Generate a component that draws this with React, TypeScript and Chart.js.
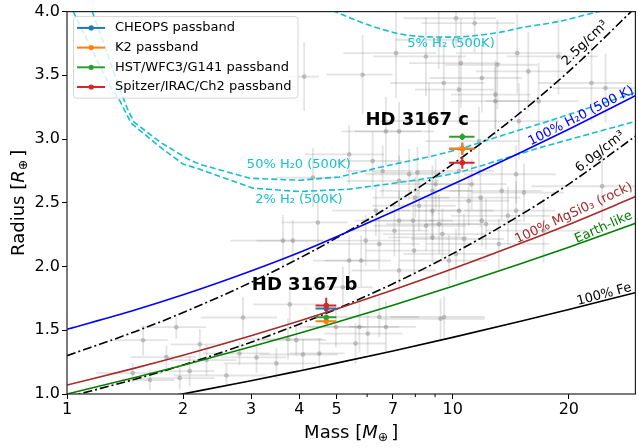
import React, { useEffect, useRef } from 'react';
import { Chart, registerables } from 'chart.js';

Chart.register(...registerables);

const FAM = '"DejaVu Sans", "Liberation Sans", sans-serif';

// ---------- model curves (mass in Earth masses, radius in Earth radii) ----------
const modelMass = [1, 1.5, 2, 3, 4, 5, 7, 10, 15, 20, 30];
const h2o100Radius = [1.508, 1.659, 1.778, 1.965, 2.11, 2.234, 2.429, 2.645, 2.894, 3.077, 3.346];
const mgsio3Radius = [1.07, 1.203, 1.304, 1.457, 1.573, 1.667, 1.816, 1.982, 2.182, 2.33, 2.552];
const earthRadius = [1.0, 1.129, 1.226, 1.37, 1.477, 1.563, 1.697, 1.845, 2.022, 2.152, 2.343];
const dens25Radius = [1.301, 1.489, 1.639, 1.876, 2.065, 2.225, 2.489, 2.803, 3.209, 3.531, 4.042];
const dens60Radius = [0.975, 1.116, 1.228, 1.406, 1.548, 1.667, 1.865, 2.101, 2.405, 2.647, 3.03];
const feMass = [1.9, 3, 4, 5, 7, 10, 15, 20, 30];
const feRadius = [0.988, 1.104, 1.181, 1.242, 1.338, 1.444, 1.57, 1.663, 1.798];

const h2o50Mass = [1.163, 1.248, 1.349, 1.432, 1.492, 1.742, 2.058, 2.21, 2.977, 4.007, 5.085, 6.71, 8.86, 10.38, 13.71, 17.74, 29.94];
const h2o50Radius = [4.0, 3.742, 3.453, 3.242, 3.133, 2.977, 2.844, 2.802, 2.693, 2.677, 2.703, 2.789, 2.867, 2.92, 3.037, 3.141, 3.367];
const h2pct2Mass = [1.038, 1.184, 1.294, 1.373, 1.466, 1.742, 1.998, 2.21, 3.03, 4.007, 5.395, 7.26, 8.86, 10.38, 16.7, 29.94];
const h2pct2Radius = [4.0, 3.648, 3.414, 3.297, 3.125, 2.938, 2.805, 2.763, 2.615, 2.588, 2.607, 2.659, 2.698, 2.737, 2.93, 3.141];
const h2pct5Mass = [4.876, 5.73, 6.45, 7.71, 9.78, 13.17, 15.11, 18.8, 21.75, 24.48];
const h2pct5Radius = [4.008, 3.922, 3.867, 3.8125, 3.80, 3.836, 3.875, 3.922, 3.969, 4.008];

// ---------- HD 3167 b and c ----------
const planetMass = [4.70, 10.59];
const planetMassErr = [0.29, 0.80];
const cheopsRadius = [1.670, 2.924];
const cheopsRadiusErr = [0.015, 0.047];
const k2Radius = [1.571, 2.924];
const k2RadiusErr = [0.02, 0.047];
const hstRadius = [1.602, 3.018];
const hstRadiusErr = [0.02, 0.025];
const spitzerRadius = [1.695, 2.815];
const spitzerRadiusErr = [0.06, 0.047];

// ---------- known planets (grey sample) ----------
const bgMass = [
  1.575, 1.92, 2.21, 1.48, 1.64, 1.81, 1.96, 2.08, 2.30, 2.59,
  2.80, 3.10, 2.86, 3.49, 3.78, 3.74, 3.93, 4.09, 4.51, 4.98,
  3.63, 3.85, 4.47, 5.39, 5.79, 5.19, 5.73, 6.45, 6.02, 5.60,
  6.71, 9.30, 6.45, 7.26, 7.90, 8.53, 8.86, 9.40, 8.86, 8.00,
  7.26, 6.58, 6.32, 9.22, 10.38, 11.8, 12.2, 14.6, 13.17, 10.2,
  8.86, 5.95, 9.03, 7.71, 10.38, 11.2, 14.6, 10.7, 11.9, 13.4,
  15.3, 9.5, 24.4, 5.39, 6.71, 7.26, 6.2, 8.1, 4.34, 4.12,
  5.84, 7.13, 8.52, 9.48, 10.38, 10.5, 13.05, 14.7, 15.7, 11.9,
  12.9, 10.2, 9.2, 22.9, 24.9, 11.4, 12.9, 11.0, 8.18, 7.06,
  13.9, 17.2, 9.78, 7.94, 11.7, 14.84, 8.68, 18.8, 16.7, 7.26,
];
const bgMassErr = [
  0.25, 0.37, 0.35, 0.29, 0.26, 0.35, 0.45, 0.33, 0.45, 0.70,
  0.55, 0.60, 0.64, 0.94, 0.74, 0.86, 0.77, 0.94, 0.73, 0.97,
  0.98, 0.75, 0.87, 1.05, 1.13, 1.01, 1.54, 1.74, 1.38, 1.09,
  1.31, 2.80, 1.74, 1.68, 2.10, 2.30, 1.70, 2.80, 2.40, 1.80,
  1.95, 1.29, 1.45, 2.50, 2.40, 3.20, 3.70, 3.90, 4.60, 2.75,
  2.05, 1.37, 2.10, 1.78, 2.40, 2.60, 3.90, 2.90, 3.20, 3.60,
  4.10, 2.60, 8.40, 1.25, 1.56, 1.68, 1.21, 1.88, 0.85, 0.38,
  1.14, 1.92, 2.30, 2.60, 2.40, 2.80, 3.50, 4.50, 4.20, 3.20,
  3.00, 2.75, 2.10, 6.20, 6.70, 3.10, 3.00, 3.00, 2.00, 1.60,
  4.00, 5.00, 2.50, 2.00, 3.20, 4.00, 2.20, 5.00, 4.50, 1.80,
];
const bgRadius = [
  1.422, 1.524, 1.39, 1.164, 1.11, 1.29, 1.125, 1.18, 1.266, 1.145,
  1.318, 1.287, 1.60, 1.24, 1.703, 1.43, 1.422, 1.31, 1.318, 1.526,
  2.203, 2.203, 2.346, 2.047, 2.047, 1.838, 1.526, 1.604, 1.474, 1.396,
  1.526, 1.59, 2.177, 2.36, 2.36, 2.32, 2.438, 2.255, 2.594, 2.54,
  2.672, 2.75, 2.438, 2.333, 2.438, 2.54, 2.333, 2.438, 2.177, 2.099,
  2.229, 2.203, 2.646, 2.724, 2.75, 2.646, 2.724, 2.216, 2.36, 2.594,
  2.58, 1.604, 2.63, 2.88, 3.06, 3.06, 2.828, 2.737, 2.698, 3.49,
  3.505, 3.674, 3.648, 3.44, 3.388, 3.596, 3.583, 3.674, 3.531, 3.479,
  3.349, 3.948, 3.779, 3.44, 3.40, 3.909, 3.297, 2.516, 2.477, 2.281,
  2.398, 2.281, 2.047, 2.125, 2.984, 3.14, 3.14, 3.648, 3.297, 1.969,
];
const bgRadiusErr = [
  0.12, 0.09, 0.12, 0.08, 0.08, 0.09, 0.09, 0.12, 0.12, 0.09,
  0.09, 0.12, 0.16, 0.12, 0.16, 0.16, 0.12, 0.12, 0.12, 0.16,
  0.20, 0.16, 0.23, 0.20, 0.20, 0.16, 0.20, 0.16, 0.16, 0.16,
  0.20, 0.16, 0.20, 0.23, 0.20, 0.20, 0.23, 0.20, 0.20, 0.16,
  0.20, 0.20, 0.20, 0.23, 0.20, 0.23, 0.20, 0.23, 0.20, 0.20,
  0.20, 0.20, 0.20, 0.20, 0.20, 0.20, 0.23, 0.20, 0.20, 0.23,
  0.23, 0.16, 0.27, 0.23, 0.27, 0.23, 0.23, 0.20, 0.23, 0.27,
  0.31, 0.35, 0.31, 0.31, 0.27, 0.35, 0.35, 0.31, 0.31, 0.27,
  0.27, 0.23, 0.23, 0.31, 0.27, 0.23, 0.27, 0.20, 0.20, 0.20,
  0.23, 0.25, 0.20, 0.20, 0.27, 0.30, 0.30, 0.30, 0.30, 0.16,
];

// ---------- axes ----------
const xTickValues = [1, 2, 3, 4, 5, 6, 7, 8, 9, 10, 20];
const xTickLabels = ['1', '2', '3', '4', '5', '', '7', '', '', '10', '20'];
const xMinorTicks = [6, 8, 9];

// ---------- text labels on the curves ----------
const curveLabels = [
  { text: '5% H₂ (500K)', mass: 9.9, radius: 3.75, angle: 0, color: '#17becf' },
  { text: '50% H₂0 (500K)', mass: 3.99, radius: 2.80, angle: 0, color: '#17becf' },
  { text: '2% H₂ (500K)', mass: 3.99, radius: 2.523, angle: 0, color: '#17becf' },
  { text: '2.5g/cm³', mass: 22.06, radius: 3.752, angle: -44, color: '#000000' },
  { text: '100% H₂0 (500 K)', mass: 21.52, radius: 3.18, angle: -27, color: '#0000ff' },
  { text: '6.0g/cm³', mass: 24.13, radius: 2.90, angle: -38, color: '#000000' },
  { text: '100% MgSi0₃ (rock)', mass: 20.6, radius: 2.418, angle: -25, color: '#a52a2a' },
  { text: 'Earth-like', mass: 24.6, radius: 2.307, angle: -24, color: '#008000' },
  { text: '100% Fe', mass: 24.7, radius: 1.78, angle: -15, color: '#000000' },
];
const planetLabels = [
  { text: 'HD 3167 c', mass: 8.09, radius: 3.148 },
  { text: 'HD 3167 b', mass: 4.13, radius: 1.852 },
];
const legendItems = [
  { text: 'CHEOPS passband', color: '#1f77b4' },
  { text: 'K2 passband', color: '#ff7f0e' },
  { text: 'HST/WFC3/G141 passband', color: '#2ca02c' },
  { text: 'Spitzer/IRAC/Ch2 passband', color: '#d62728' },
];

const pts = (xs: number[], ys: number[]) => xs.map((x, i) => ({ x, y: ys[i] }));

function drawBars(chart: any, layer: string) {
  const { ctx, chartArea: a, scales } = chart;
  const sx = scales.x, sy = scales.y;
  ctx.save();
  ctx.beginPath();
  ctx.rect(a.left, a.top, a.right - a.left, a.bottom - a.top);
  ctx.clip();
  const sets = chart.data.datasets
    .filter((d: any) => d.errLayer === layer)
    .sort((p: any, q: any) => (q.order || 0) - (p.order || 0));
  sets.forEach((ds: any) => {
    ctx.strokeStyle = ds.errColor;
    ctx.lineWidth = ds.errWidth;
    ds.data.forEach((p: any, i: number) => {
      const px = sx.getPixelForValue(p.x);
      const py = sy.getPixelForValue(p.y);
      const x0 = sx.getPixelForValue(p.x - ds.errX[i]);
      const x1 = sx.getPixelForValue(p.x + ds.errX[i]);
      const y0 = sy.getPixelForValue(p.y - ds.errY[i]);
      const y1 = sy.getPixelForValue(p.y + ds.errY[i]);
      ctx.beginPath();
      ctx.moveTo(x0, py);
      ctx.lineTo(x1, py);
      ctx.moveTo(px, y0);
      ctx.lineTo(px, y1);
      ctx.stroke();
      if (layer === 'front') {
        ctx.fillStyle = ds.backgroundColor;
        ctx.beginPath();
        ctx.arc(px, py, 2.6, 0, Math.PI * 2);
        ctx.fill();
      }
    });
  });
  ctx.restore();
}

const errorBarPlugin = {
  id: 'errorBars',
  beforeDatasetsDraw(chart: any) { drawBars(chart, 'back'); },
  afterDatasetsDraw(chart: any) { drawBars(chart, 'front'); },
};

function drawRich(ctx: CanvasRenderingContext2D, segs: any[], x: number, y: number, size: number) {
  const parts = segs.map((s) => {
    const fs = s.sub ? size * 0.7 : size;
    const font = `${s.italic ? 'italic ' : ''}${fs}px ${FAM}`;
    ctx.font = font;
    return { ...s, font, w: ctx.measureText(s.t).width + (s.gap || 0), dy: s.sub ? size * 0.22 : 0 };
  });
  const total = parts.reduce((acc, p) => acc + p.w, 0);
  let cx = x - total / 2;
  ctx.textAlign = 'left';
  ctx.textBaseline = 'alphabetic';
  parts.forEach((p) => {
    ctx.font = p.font;
    ctx.fillText(p.t, cx, y + p.dy);
    cx += p.w;
  });
}

const decorPlugin = {
  id: 'decor',
  afterDraw(chart: any) {
    const { ctx, chartArea: a, scales } = chart;
    const sx = scales.x, sy = scales.y;
    ctx.save();
    // frame
    ctx.strokeStyle = '#222';
    ctx.lineWidth = 1.2;
    ctx.strokeRect(a.left, a.top, a.right - a.left, a.bottom - a.top);
    // minor ticks
    ctx.lineWidth = 1;
    ctx.strokeStyle = '#000';
    xMinorTicks.forEach((v) => {
      const px = sx.getPixelForValue(v);
      ctx.beginPath();
      ctx.moveTo(px, a.bottom);
      ctx.lineTo(px, a.bottom + 3);
      ctx.stroke();
    });
    // axis titles
    ctx.fillStyle = '#000';
    drawRich(ctx, [{ t: 'Mass [' }, { t: 'M', italic: true }, { t: '⊕', sub: true, gap: 3 }, { t: ']' }], (a.left + a.right) / 2, 437.5, 18);
    ctx.save();
    ctx.translate(23.5, (a.top + a.bottom) / 2);
    ctx.rotate(-Math.PI / 2);
    drawRich(ctx, [{ t: 'Radius [' }, { t: 'R', italic: true }, { t: '⊕', sub: true, gap: 3 }, { t: ']' }], 0, 0, 18);
    ctx.restore();
    // curve labels
    ctx.textAlign = 'center';
    ctx.textBaseline = 'middle';
    curveLabels.forEach((l) => {
      const px = sx.getPixelForValue(l.mass);
      const py = sy.getPixelForValue(l.radius);
      ctx.save();
      ctx.translate(px, py);
      ctx.rotate((l.angle * Math.PI) / 180);
      ctx.font = `13px ${FAM}`;
      ctx.fillStyle = l.color;
      ctx.fillText(l.text, 0, 0);
      ctx.restore();
    });
    planetLabels.forEach((l) => {
      ctx.font = `bold 18px ${FAM}`;
      ctx.fillStyle = '#000';
      ctx.fillText(l.text, sx.getPixelForValue(l.mass), sy.getPixelForValue(l.radius));
    });
    // legend
    const bx = a.left + 6.5, by = a.top + 5, bw = 224.5, bh = 81.5, r = 3;
    ctx.beginPath();
    ctx.moveTo(bx + r, by);
    ctx.lineTo(bx + bw - r, by);
    ctx.quadraticCurveTo(bx + bw, by, bx + bw, by + r);
    ctx.lineTo(bx + bw, by + bh - r);
    ctx.quadraticCurveTo(bx + bw, by + bh, bx + bw - r, by + bh);
    ctx.lineTo(bx + r, by + bh);
    ctx.quadraticCurveTo(bx, by + bh, bx, by + bh - r);
    ctx.lineTo(bx, by + r);
    ctx.quadraticCurveTo(bx, by, bx + r, by);
    ctx.closePath();
    ctx.fillStyle = 'rgba(255,255,255,0.8)';
    ctx.fill();
    ctx.strokeStyle = 'rgba(204,204,204,0.8)';
    ctx.lineWidth = 1;
    ctx.stroke();
    legendItems.forEach((it, i) => {
      const yy = by + 11.3 + i * 19.7;
      ctx.strokeStyle = it.color;
      ctx.lineWidth = 2;
      ctx.beginPath();
      ctx.moveTo(bx + 3.5, yy);
      ctx.lineTo(bx + 31.5, yy);
      ctx.stroke();
      ctx.fillStyle = it.color;
      ctx.beginPath();
      ctx.arc(bx + 17.7, yy, 2.6, 0, Math.PI * 2);
      ctx.fill();
      ctx.fillStyle = '#000';
      ctx.font = `13px ${FAM}`;
      ctx.textAlign = 'left';
      ctx.textBaseline = 'middle';
      ctx.fillText(it.text, bx + 41.5, yy);
    });
    ctx.restore();
  },
};

function curve(label: string, xs: number[], ys: number[], color: string, dash: number[] = [], smooth = true) {
  return {
    label,
    data: pts(xs, ys),
    showLine: true,
    pointRadius: 0,
    pointHoverRadius: 0,
    borderColor: color,
    backgroundColor: color,
    borderWidth: 1.6,
    borderDash: dash,
    cubicInterpolationMode: smooth ? 'monotone' : 'default',
    order: 1,
  };
}

function band(label: string, ys: number[], yerr: number[], color: string, order: number) {
  return {
    label,
    data: pts(planetMass, ys),
    pointRadius: 2.6,
    pointHoverRadius: 2.6,
    borderWidth: 0,
    backgroundColor: color,
    borderColor: color,
    errX: planetMassErr,
    errY: yerr,
    errLayer: 'front',
    errColor: color,
    errWidth: 2,
    order,
  };
}

export default function App() {
  const ref = useRef<HTMLCanvasElement | null>(null);
  useEffect(() => {
    if (!ref.current) return;
    const tickFont = { family: FAM, size: 16 };
    const chart = new Chart(ref.current, {
      type: 'scatter',
      data: {
        datasets: [
          band('CHEOPS passband', cheopsRadius, cheopsRadiusErr, '#1f77b4', 0.4),
          band('K2 passband', k2Radius, k2RadiusErr, '#ff7f0e', 0.3),
          band('HST/WFC3/G141 passband', hstRadius, hstRadiusErr, '#2ca02c', 0.2),
          band('Spitzer/IRAC/Ch2 passband', spitzerRadius, spitzerRadiusErr, '#d62728', 0.1),
          curve('100% Fe', feMass, feRadius, '#000000'),
          curve('Earth-like', modelMass, earthRadius, '#008000'),
          curve('100% MgSiO3', modelMass, mgsio3Radius, '#a52a2a'),
          curve('100% H2O', modelMass, h2o100Radius, '#0000ff'),
          curve('6.0 g/cm3', modelMass, dens60Radius, '#000000', [9, 3, 2, 3]),
          curve('2.5 g/cm3', modelMass, dens25Radius, '#000000', [9, 3, 2, 3]),
          curve('5% H2', h2pct5Mass, h2pct5Radius, '#17becf', [6, 3]),
          curve('2% H2', h2pct2Mass, h2pct2Radius, '#17becf', [6, 3], false),
          curve('50% H2O', h2o50Mass, h2o50Radius, '#17becf', [6, 3], false),
          {
            label: 'sample',
            data: pts(bgMass, bgRadius),
            pointRadius: 2.3,
            pointHoverRadius: 2.3,
            borderWidth: 0,
            backgroundColor: 'rgba(128,128,128,0.45)',
            errX: bgMassErr,
            errY: bgRadiusErr,
            errLayer: 'back',
            errColor: 'rgba(128,128,128,0.22)',
            errWidth: 1.8,
            order: 2,
          },
        ] as any,
      },
      options: {
        animation: false,
        responsive: false,
        devicePixelRatio: 1,
        events: [],
        layout: { padding: { top: 10, right: 1, left: 0, bottom: 0 } },
        plugins: { legend: { display: false }, tooltip: { enabled: false } },
        scales: {
          x: {
            type: 'logarithmic',
            min: 1,
            max: 29.76,
            afterBuildTicks: (s: any) => {
              s.ticks = xTickValues.map((v) => ({ value: v }));
            },
            afterFit: (s: any) => { s.height = 54; },
            ticks: {
              autoSkip: false,
              maxRotation: 0,
              minRotation: 0,
              padding: 1,
              color: '#000',
              font: tickFont,
              callback: (v: any) => {
                const i = xTickValues.indexOf(Number(v));
                return i >= 0 ? xTickLabels[i] : '';
              },
            },
            grid: {
              display: true,
              drawOnChartArea: false,
              drawTicks: true,
              tickLength: 5,
              tickWidth: 1,
              tickColor: (c: any) => (c.tick && xMinorTicks.includes(c.tick.value) ? 'rgba(0,0,0,0)' : '#000'),
            },
            border: { display: false },
          },
          y: {
            type: 'linear',
            min: 1,
            max: 4,
            afterFit: (s: any) => { s.width = 67; },
            ticks: {
              stepSize: 0.5,
              padding: 2,
              color: '#000',
              font: tickFont,
              callback: (v: any) => Number(v).toFixed(1),
            },
            grid: {
              display: true,
              drawOnChartArea: false,
              drawTicks: true,
              tickLength: 5,
              tickWidth: 1,
              tickColor: '#000',
            },
            border: { display: false },
          },
        },
      } as any,
      plugins: [errorBarPlugin, decorPlugin],
    });
    return () => chart.destroy();
  }, []);
  return (
    <div style={{ position: 'fixed', left: 0, top: 0, width: 638, height: 448, background: '#fff' }}>
      <canvas ref={ref} width={638} height={448} style={{ display: 'block', width: 638, height: 448 }} />
    </div>
  );
}
